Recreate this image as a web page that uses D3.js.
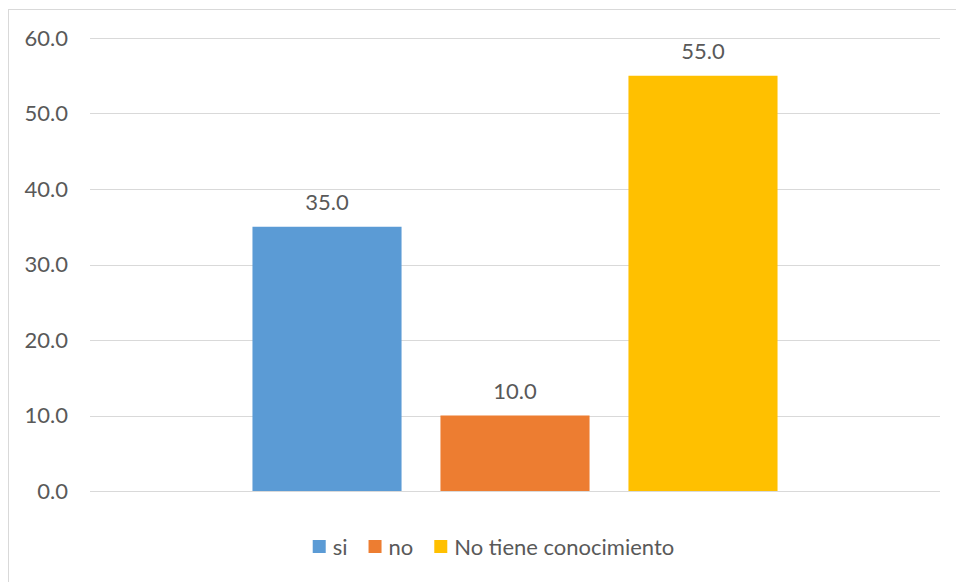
<!DOCTYPE html>
<html>
<head>
<meta charset="utf-8">
<script src="https://cdn.jsdelivr.net/npm/d3@7"></script>
<style>
  body { margin: 0; background: #fff; }
  text { font-family: Lato, "Open Sans", sans-serif; fill: #595959; }
</style>
</head>
<body>
<div id="chart"></div>
<script>
// data
var categories = [""]
var series = ["si", "no", "No tiene conocimiento"]
var values = [35.0, 10.0, 55.0]
var colors = ["#5b9bd5", "#ed7d31", "#ffc000"]
var yTicks = [0, 10, 20, 30, 40, 50, 60]

var W = 956, H = 582
var plot = {left: 90, right: 940, top: 38, bottom: 491}
var fontSize = 22

var svg = d3.select("#chart").append("svg")
  .attr("width", W)
  .attr("height", H)

// chart area border (runs past the window edge)
svg.append("rect")
  .attr("x", 8.5).attr("y", 9.5)
  .attr("width", 1000).attr("height", 700)
  .attr("fill", "none")
  .attr("stroke", "#d9d9d9")

var y = d3.scaleLinear()
  .domain([0, 60])
  .range([plot.bottom, plot.top])

var x0 = d3.scaleBand()
  .domain(categories)
  .range([plot.left, plot.right])

// bars of the one category take ~66% of the band
var groupW = x0.bandwidth() * 0.6635
var x1 = d3.scaleBand()
  .domain(series)
  .range([x0("") + (x0.bandwidth() - groupW) / 2, x0("") + (x0.bandwidth() + groupW) / 2])
  .paddingInner(0.207)
  .paddingOuter(0.1035)

// gridlines
svg.append("g").selectAll("line")
  .data(yTicks)
  .enter()
    .append("line")
    .attr("x1", plot.left)
    .attr("x2", plot.right)
    .attr("y1", (d)=>Math.round(y(d)) + 0.5)
    .attr("y2", (d)=>Math.round(y(d)) + 0.5)
    .attr("stroke", "#d9d9d9")
    .attr("stroke-width", 1)

// y labels
svg.append("g").selectAll("text")
  .data(yTicks)
  .enter()
    .append("text")
    .attr("x", 68)
    .attr("y", (d)=>y(d))
    .attr("dy", "0.36em")
    .attr("text-anchor", "end")
    .style("font-size", fontSize + "px")
    .text((d)=>d.toFixed(1))

// bars
svg.append("g").selectAll("rect")
  .data(series)
  .enter()
    .append("rect")
    .attr("x", (d)=>x1(d))
    .attr("width", x1.bandwidth())
    .attr("y", (d,i)=>y(values[i]))
    .attr("height", (d,i)=>y(0) - y(values[i]))
    .attr("fill", (d,i)=>colors[i])

// value labels
svg.append("g").selectAll("text")
  .data(series)
  .enter()
    .append("text")
    .attr("x", (d)=>x1(d) + x1.bandwidth() / 2)
    .attr("y", (d,i)=>y(values[i]) - 17)
    .attr("text-anchor", "middle")
    .style("font-size", fontSize + "px")
    .text((d,i)=>values[i].toFixed(1))

// legend
var legend = svg.append("g")
var lx = 0
series.forEach((s,i)=>{
  var g = legend.append("g").attr("transform", "translate(" + lx + ",0)")
  g.append("rect")
    .attr("x", 0).attr("y", -7)
    .attr("width", 13).attr("height", 13)
    .attr("fill", colors[i])
  var t = g.append("text")
    .attr("x", 20)
    .attr("y", 0)
    .attr("dy", "0.36em")
    .style("font-size", fontSize + "px")
    .text(s)
  lx += 20 + t.node().getComputedTextLength() + 21
})
var legendW = lx - 21
legend.attr("transform", "translate(" + (493.5 - legendW / 2) + ",547)")
</script>
</body>
</html>
